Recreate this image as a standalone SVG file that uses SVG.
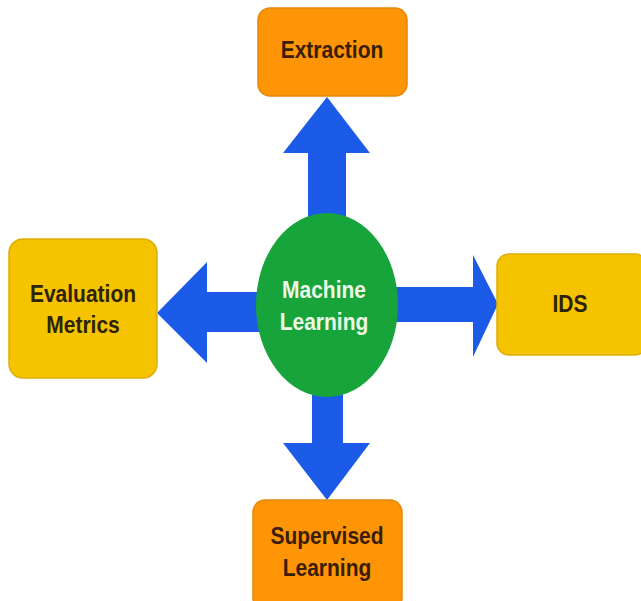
<svg xmlns="http://www.w3.org/2000/svg" width="641" height="601" viewBox="0 0 641 601">
  <style>
    .orange { fill: #fd9506; stroke: #e5880c; stroke-width: 1.5; }
    .yellow { fill: #f6c300; stroke: #dcae08; stroke-width: 1.5; }
    .label { font-family: "Liberation Sans", Arial, sans-serif; font-weight: bold; font-size: 21px; text-anchor: middle; dominant-baseline: central; }
    .dark { fill: #3a1d05; }
    .darky { fill: #2e2208; }
    .light { fill: #eef8e6; }
    .arrow { fill: #1c5ae8; }
  </style>
  <rect width="641" height="601" fill="#ffffff"/>

  <!-- connectors: block arrows radiating from the centre -->
  <g id="connectors">
    <!-- up to Extraction -->
    <polygon class="arrow" points="308,225 308,153 283,153 327,97 370,153 346,153 346,225"/>
    <!-- left to Evaluation Metrics -->
    <polygon class="arrow" points="265,292 207,292 207,262 157,313 207,363 207,332 265,332"/>
    <!-- right to IDS -->
    <polygon class="arrow" points="390,287 473,287 473,255 498,304 473,357 473,322 390,322"/>
    <!-- down to Supervised Learning -->
    <polygon class="arrow" points="312,385 312,443 283,443 327,500 370,443 343,443 343,385"/>
  </g>

  <g id="node-ml">
    <ellipse cx="327" cy="305" rx="71" ry="92" fill="#17a43a"/>
    <text class="label light" transform="translate(324 290) scale(1 1.15)">Machine</text>
    <text class="label light" transform="translate(324 322) scale(1 1.15)">Learning</text>
  </g>

  <g id="node-extraction">
    <rect class="orange" x="258" y="8" width="149" height="88" rx="12"/>
    <text class="label dark" transform="translate(332 50) scale(1 1.15)">Extraction</text>
  </g>

  <g id="node-evaluation">
    <rect class="yellow" x="9" y="239" width="148" height="139" rx="14"/>
    <text class="label darky" transform="translate(83 294) scale(1 1.15)">Evaluation</text>
    <text class="label darky" transform="translate(83 325) scale(1 1.15)">Metrics</text>
  </g>

  <g id="node-ids">
    <rect class="yellow" x="497" y="254" width="150" height="101" rx="12"/>
    <text class="label darky" transform="translate(570 304) scale(1 1.15)">IDS</text>
  </g>

  <g id="node-supervised">
    <rect class="orange" x="253" y="500" width="149" height="110" rx="12"/>
    <text class="label dark" transform="translate(327 536) scale(1 1.15)">Supervised</text>
    <text class="label dark" transform="translate(327 568) scale(1 1.15)">Learning</text>
  </g>
</svg>
